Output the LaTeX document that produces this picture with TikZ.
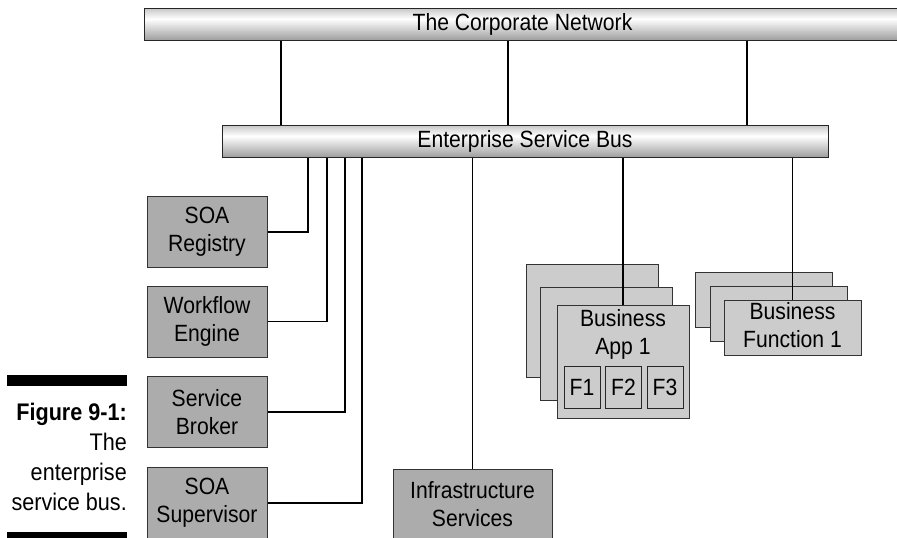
\documentclass[tikz,border=0pt]{standalone}
\usepackage{fontspec}
\setmainfont{Liberation Sans}[FakeStretch=0.9]
\pgfdeclareverticalshading{barshade}{100bp}{color(0bp)=(black!38); color(25bp)=(black!38); color(58bp)=(white); color(75bp)=(black!22); color(100bp)=(black!22)}
\begin{document}
\begin{tikzpicture}[x=1pt,y=-1pt,
  txt/.style={font=\fontsize{23.5}{28}\selectfont},
  bar/.style={draw=black!85,line width=1pt,shading=barshade,inner sep=0pt,minimum height=32pt,txt},
  graybox/.style={draw=black!80,line width=1pt,fill=gray!65,inner sep=0pt,minimum width=120pt,minimum height=71pt,align=center,txt},
  stackbox/.style={draw=black!80,line width=1pt,fill=gray!40,inner sep=0pt},
  fbox/.style={draw=black!85,line width=1pt,fill=gray!40,inner sep=0pt,minimum width=36pt,minimum height=42pt,txt},
  wire/.style={line width=1.5pt,black}]
\useasboundingbox (0,0) rectangle (897,538);

% bars
\node[bar,minimum width=757pt] (corp) at (522.5,24) {The Corporate Network};
\node[bar,minimum width=606pt] (esb) at (525,141) {Enterprise Service Bus};

\coordinate (x1) at (281,0);
\coordinate (x2) at (508,0);
\coordinate (x3) at (747,0);
\draw[wire] (x1 |- corp.south) -- (x1 |- esb.north);
\draw[wire] (x2 |- corp.south) -- (x2 |- esb.north);
\draw[wire] (x3 |- corp.south) -- (x3 |- esb.north);

% left boxes
\node[graybox] (reg) at (207,232) {SOA\\Registry};
\node[graybox] (wf) at (207,321.5) {Workflow\\Engine};
\node[graybox] (brk) at (207,412) {Service\\Broker};
\node[graybox] (sup) at (207,503) {SOA\\Supervisor};
\coordinate (l1) at (308,0);
\coordinate (l2) at (327,0);
\coordinate (l3) at (345,0);
\coordinate (l4) at (362,0);
\draw[wire] (reg.east) -| (l1 |- esb.south);
\draw[wire] (wf.east) -| (l2 |- esb.south);
\draw[wire] (brk.east) -| (l3 |- esb.south);
\draw[wire] (sup.east) -| (l4 |- esb.south);

% infrastructure
\node[graybox,minimum width=159pt] (inf) at (472.5,504.5) {Infrastructure\\Services};
\draw[wire] (esb.south -| inf.north) -- (inf.north);

% business app stack
\node[stackbox,minimum width=132pt,minimum height=113pt] (app3) at (592,320.5) {};
\node[stackbox,minimum width=132pt,minimum height=113pt] (app2) at (606.5,343.5) {};
\node[stackbox,minimum width=132pt,minimum height=113pt] (app1) at (623,362) {};
\node[txt,align=center] (applbl) at (623,334) {Business\\App 1};
\node[fbox] (f1) at (582,387) {F1};
\node[fbox] (f2) at (623.5,387) {F2};
\node[fbox] (f3) at (665,387) {F3};
\draw[wire] (esb.south -| app1.north) -- (app1.north);

% business function stack
\node[stackbox,minimum width=137pt,minimum height=55pt] (fn3) at (763.5,299.5) {};
\node[stackbox,minimum width=137pt,minimum height=55pt] (fn2) at (778.5,314) {};
\node[stackbox,minimum width=137pt,minimum height=55pt] (fn1) at (792.5,327.5) {};
\node[txt,align=center] (fnlbl) at (792.5,325.5) {Business\\Function 1};
\draw[wire] (esb.south -| fn1.north) -- (fn1.north);

% caption
\fill[black] (7,375) rectangle (127,386);
\fill[black] (7,532) rectangle (127,543);
\node[font=\fontsize{24}{30}\selectfont,align=right,anchor=east,inner sep=0pt] (cap) at (127,457) {\textbf{Figure 9-1:}\\The\\enterprise\\service bus.};
\end{tikzpicture}
\end{document}
